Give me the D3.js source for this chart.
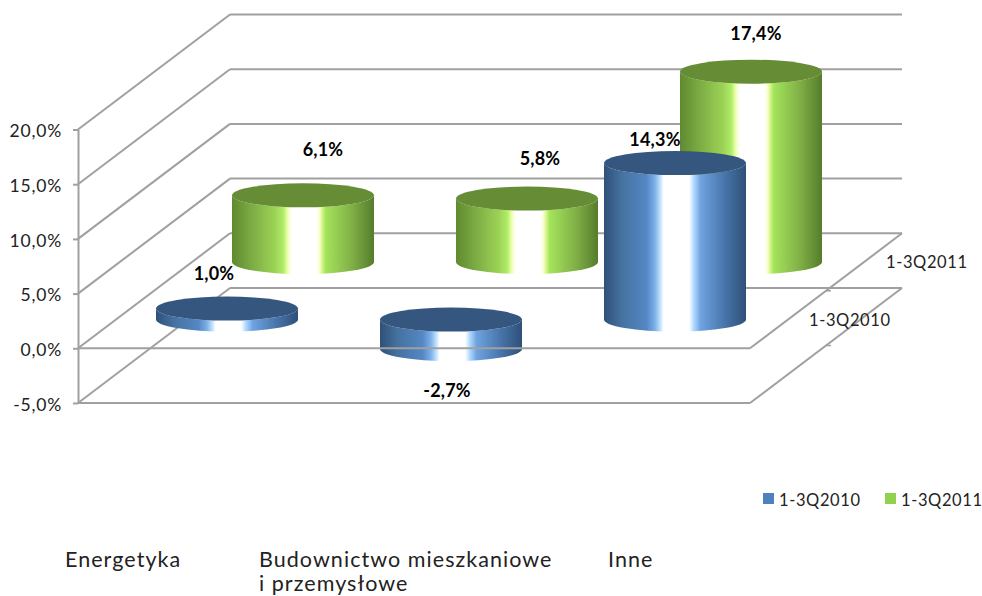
<!DOCTYPE html>
<html lang="pl">
<head>
<meta charset="utf-8">
<style>
  html, body { margin: 0; background: #fff; }
  text { font-family: Lato, "Open Sans", sans-serif; fill: #222; }
  .val { font-weight: 700; font-size: 18px; letter-spacing: 0.2px; fill: #000; }
  .y-label { font-size: 17.5px; letter-spacing: 0.8px; }
  .tick-label { font-size: 16.5px; letter-spacing: 0.6px; }
  .cat { font-size: 21.5px; letter-spacing: 1.05px; }
</style>
</head>
<body>
<svg id="chart" width="982" height="596"></svg>
<script src="https://cdn.jsdelivr.net/npm/d3@7"></script>
<script>
"use strict";

/********/
/* data */
/********/

const categories = ["Energetyka", "Budownictwo mieszkaniowe", "Inne"];
const categoryLines = [["Energetyka"], ["Budownictwo mieszkaniowe", "i przemysłowe"], ["Inne"]];
const seriesNames = ["1-3Q2010", "1-3Q2011"];
const values2010 = [1.0, -2.7, 14.3];
const values2011 = [6.1, 5.8, 17.4];
const yTicks = [-5, 0, 5, 10, 15, 20];

/**********/
/* layout */
/**********/

const svg = d3.select("#chart");
// plain hyphen for negatives, like the original labels
const pl = d3.formatLocale({ decimal: ",", thousands: " ", grouping: [3], currency: ["", ""], minus: "-" });
const fmt = v => pl.format(".1f")(v) + "%";

// front plane of the 3d box and how far the back plane is shifted
const x = d3.scaleBand().domain(categories).range([78, 750]);
const y = d3.scaleLinear().domain([-5, 20]).range([403, 129.5]);
const depth = d3.scaleBand().domain(seriesNames).range([0, 1]);
const backX = 152;
const backY = -115;
const lineColour = "#a0a0a0";

const colours = {
  "1-3Q2010": {
    top: "#34567f",
    legend: "#4f81bd",
    stops: [[0, "#2f5078"], [0.12, "#44719f"], [0.3, "#5487c4"], [0.36, "#7fb2ea"], [0.4, "#c8e6ff"],
      [0.42, "#ffffff"], [0.6, "#ffffff"], [0.63, "#b5dcff"], [0.68, "#6fa3e0"], [0.85, "#4774aa"], [1, "#2f5078"]],
  },
  "1-3Q2011": {
    top: "#668c35",
    legend: "#92d050",
    stops: [[0, "#5f8a30"], [0.15, "#7fae45"], [0.3, "#9bd255"], [0.36, "#aeec68"], [0.39, "#eaffa8"],
      [0.42, "#ffffff"], [0.6, "#ffffff"], [0.62, "#f4ffb4"], [0.66, "#a4e45c"], [0.85, "#7fae45"], [1, "#557c2c"]],
  },
};

// label offsets from the centre of each cylinder top
const labelShift = {
  "1-3Q2010": [[-14, -29], [-5, 77], [-21, -17]],
  "1-3Q2011": [[19, -39], [12, -34], [4, -32]],
};

/********/
/* view */
/********/

function defsView() {
  const defs = svg.append("defs");
  seriesNames.forEach((name, i) => {
    defs.append("linearGradient")
      .attr("id", "side" + i)
      .selectAll("stop")
      .data(colours[name].stops)
      .join("stop")
      .attr("offset", d => d[0])
      .attr("stop-color", d => d[1]);
  });
}

function boxView() {
  const g = svg.append("g")
    .attr("fill", "none")
    .attr("stroke", lineColour)
    .attr("stroke-width", 2);
  const [x0, x1] = x.range();

  g.selectAll(".back")
    .data(yTicks)
    .join("line")
    .attr("x1", x0 + backX)
    .attr("x2", x1 + backX)
    .attr("y1", d => y(d) + backY)
    .attr("y2", d => y(d) + backY);

  g.selectAll(".side")
    .data(yTicks)
    .join("line")
    .attr("x1", x0)
    .attr("x2", x0 + backX)
    .attr("y1", d => y(d))
    .attr("y2", d => y(d) + backY);

  // right edge of both floors, with the series ticks half way
  [0, -5].forEach(v => {
    g.append("line")
      .attr("x1", x1)
      .attr("x2", x1 + backX)
      .attr("y1", y(v))
      .attr("y2", y(v) + backY);
    g.append("line")
      .attr("x1", x1 + backX / 2)
      .attr("x2", x1 + backX / 2 + 5)
      .attr("y1", y(v) + backY / 2)
      .attr("y2", y(v) + backY / 2)
      .attr("stroke-width", 1.5);
  });
}

// the front floor lines run over the blue cylinders
function frontView() {
  const g = svg.append("g")
    .attr("stroke", lineColour)
    .attr("stroke-width", 2);
  const [x0, x1] = x.range();
  [0, -5].forEach(v => {
    g.append("line")
      .attr("x1", x0)
      .attr("x2", x1)
      .attr("y1", y(v))
      .attr("y2", y(v));
  });
}

function axisView() {
  const g = svg.append("g")
    .attr("transform", "translate(" + x.range()[0] + ",0)")
    .call(d3.axisLeft(y).tickValues(yTicks).tickFormat(fmt).tickSize(5).tickSizeOuter(0));
  g.select(".domain").attr("stroke", lineColour).attr("stroke-width", 2);
  g.selectAll(".tick line").attr("stroke", lineColour).attr("stroke-width", 2);
  g.selectAll(".tick text")
    .attr("class", "y-label")
    .attr("x", -16)
    .attr("dy", "0.42em")
    .attr("text-anchor", "end")
    .attr("fill", "#222");
}

function cylinderPath(cx, yTop, yBottom, rx, ry) {
  return "M" + (cx - rx) + "," + yTop +
    "A" + rx + "," + ry + " 0 0 0 " + (cx + rx) + "," + yTop +
    "L" + (cx + rx) + "," + yBottom +
    "A" + rx + "," + ry + " 0 0 1 " + (cx - rx) + "," + yBottom + "Z";
}

function seriesView(name, values, index) {
  const g = svg.append("g");
  const rx = x.bandwidth() * 0.317;
  const ry = 12;
  const d = depth(name) + depth.bandwidth() / 2;

  values.forEach((v, i) => {
    const cx = x(categories[i]) + x.bandwidth() / 2 + backX * d - 1;
    const yValue = y(v) + backY * d;
    const yZero = y(0) + backY * d;
    const yTop = Math.min(yValue, yZero);
    const yBottom = Math.max(yValue, yZero);

    g.append("path")
      .attr("d", cylinderPath(cx, yTop, yBottom, rx, ry))
      .attr("fill", "url(#side" + index + ")");
    g.append("ellipse")
      .attr("cx", cx)
      .attr("cy", yTop)
      .attr("rx", rx)
      .attr("ry", ry)
      .attr("fill", colours[name].top);
  });
}

function valueLabelsView(name, values) {
  const d = depth(name) + depth.bandwidth() / 2;
  svg.append("g")
    .selectAll("text")
    .data(values)
    .join("text")
    .attr("class", "val")
    .attr("text-anchor", "middle")
    .attr("x", (v, i) => x(categories[i]) + x.bandwidth() / 2 + backX * d + labelShift[name][i][0])
    .attr("y", (v, i) => Math.min(y(v), y(0)) + backY * d + labelShift[name][i][1])
    .text(fmt);
}

function textView() {
  // series names beside the floor
  svg.append("text").attr("class", "tick-label").attr("x", 809).attr("y", 326).text(seriesNames[0]);
  svg.append("text").attr("class", "tick-label").attr("x", 886).attr("y", 268).text(seriesNames[1]);

  // legend
  const legendX = [763, 885];
  const legend = svg.append("g")
    .selectAll("g")
    .data(seriesNames)
    .join("g")
    .attr("transform", (d, i) => "translate(" + legendX[i] + ",493)");
  legend.append("rect")
    .attr("width", 11)
    .attr("height", 11)
    .attr("fill", d => colours[d].legend);
  legend.append("text")
    .attr("class", "tick-label")
    .attr("x", 16)
    .attr("y", 13)
    .text(d => d);

  // category names sit far below the plot
  const catX = [65, 259, 608];
  const cat = svg.append("g")
    .selectAll("text")
    .data(categoryLines)
    .join("text")
    .attr("class", "cat")
    .attr("y", 567);
  cat.selectAll("tspan")
    .data((d, i) => d.map(line => ({ line, i })))
    .join("tspan")
    .attr("x", d => catX[d.i])
    .attr("dy", (d, j) => (j ? 24 : 0))
    .text(d => d.line);
}

/********/
/* init */
/********/

defsView();
boxView();
seriesView(seriesNames[1], values2011, 1);
seriesView(seriesNames[0], values2010, 0);
frontView();
axisView();
valueLabelsView(seriesNames[1], values2011);
valueLabelsView(seriesNames[0], values2010);
textView();
</script>
</body>
</html>
